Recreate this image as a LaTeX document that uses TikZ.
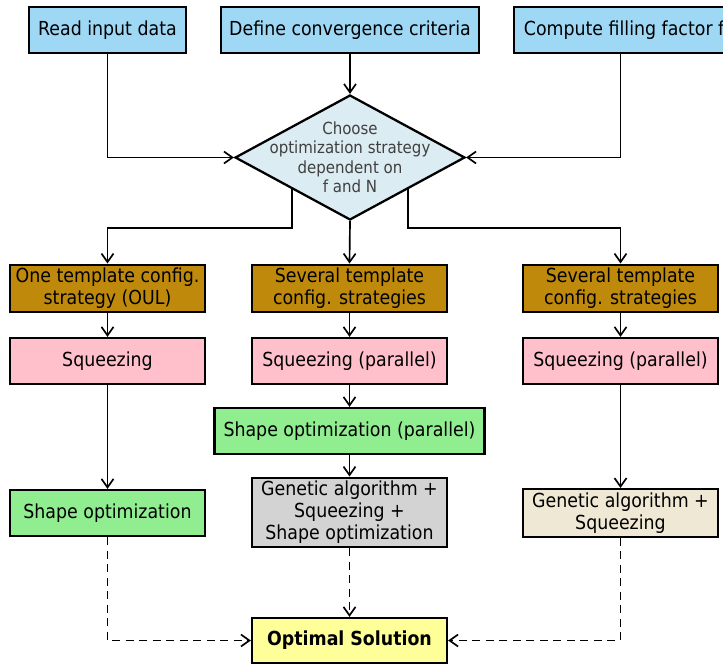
\documentclass[tikz,border=0pt]{standalone}
\usepackage{fontspec}
\setmainfont{DejaVu Sans Condensed}
\usepackage{tikz}
\usetikzlibrary{positioning,arrows.meta,calc,shapes.geometric}
\definecolor{inblue}{RGB}{158,216,245}
\definecolor{decfill}{RGB}{220,236,243}
\definecolor{ochre}{RGB}{191,138,11}
\definecolor{sqpink}{RGB}{255,192,203}
\definecolor{optgreen}{RGB}{144,238,144}
\definecolor{gagray}{RGB}{211,211,211}
\definecolor{gabeige}{RGB}{238,232,213}
\definecolor{solyellow}{RGB}{255,255,153}
\tikzset{
  box/.style={draw=black, line width=1.3pt, minimum width=3.9cm, minimum height=0.92cm,
              inner sep=2pt, align=center, font=\fontsize{11}{12.5}\selectfont},
  inbox/.style={box, fill=inblue},
  stratbox/.style={box, fill=ochre},
  sqbox/.style={box, fill=sqpink},
  shbox/.style={box, fill=optgreen},
  gabox/.style={box, fill=gagray},
  gabbox/.style={box, fill=gabeige},
  solbox/.style={box, fill=solyellow, font=\fontsize{11}{12.5}\selectfont\bfseries},
  decision/.style={diamond, draw=black, line width=1.3pt, fill=decfill, inner sep=0pt,
                   minimum width=4.6cm, minimum height=2.5cm},
  dectext/.style={align=center, text=black!75, font=\fontsize{9.5}{11.1}\selectfont},
  flow/.style={-{Straight Barb[length=1.7mm,width=2.4mm]}, line width=0.95pt},
  result/.style={flow, dash pattern=on 1.6mm off 1.1mm}
}
\begin{document}
\begin{tikzpicture}[x=0.02cm, y=-0.02cm]
\clip (0,0) rectangle (723,665);
% inputs
\node[inbox, minimum width=3.14cm] (read) at (107.5,30) {Read input data};
\node[inbox, minimum width=5.16cm] (conv) at (350,30) {Define convergence criteria};
\node[inbox, minimum width=4.4cm, anchor=west] (fill) at (513,30) {Compute filling factor f};
% decision
\node[decision] (dec) at (350,157.5) {};
\node[dectext] (decText) at (dec.center) {Choose\\optimization strategy\\dependent on\\f and N};
\coordinate (decL) at ($(dec.west)!0.5!(dec.south)$);
\coordinate (decR) at ($(dec.east)!0.5!(dec.south)$);
% strategies
\node[stratbox] (oneT) at (107.5,288.5) {One template config.\\strategy (OUL)};
\node[stratbox] (sevM) at (349.5,288.5) {Several template\\config. strategies};
\node[stratbox] (sevR) at (620.5,288.5) {Several template\\config. strategies};
\node[sqbox] (sqL) at (107.5,361) {Squeezing};
\node[sqbox] (sqM) at (349.5,361) {Squeezing (parallel)};
\node[sqbox] (sqR) at (620.5,361) {Squeezing (parallel)};
\node[shbox, minimum width=5.4cm] (shPar) at (349.5,431) {Shape optimization (parallel)};
\node[shbox] (shL) at (107.5,513) {Shape optimization};
\node[gabox, minimum height=1.38cm] (gaM) at (349.5,512.5) {Genetic algorithm +\\Squeezing +\\Shape optimization};
\node[gabbox] (gaR) at (620.5,513) {Genetic algorithm +\\Squeezing};
\node[solbox, minimum height=0.9cm] (opt) at (349.5,640.5) {Optimal Solution};
% connectors
\draw[flow] (read.south) |- (dec.west);
\draw[flow] (conv.south) -- (dec.north);
\draw[flow] (fill.south -| sevR.north) |- (dec.east);
\draw[flow] (decL) -- ++(0,39) -| (oneT.north);
\draw[flow] (dec.south) -- (sevM.north);
\draw[flow] (decR) -- ++(0,39) -| (sevR.north);
\draw[flow] (oneT) -- (sqL);
\draw[flow] (sevM) -- (sqM);
\draw[flow] (sevR) -- (sqR);
\draw[flow] (sqL) -- (shL);
\draw[flow] (sqM) -- (shPar);
\draw[flow] (shPar) -- (gaM);
\draw[flow] (sqR) -- (gaR);
\draw[result] (shL.south) |- (opt.west);
\draw[result] (gaM) -- (opt);
\draw[result] (gaR.south) |- (opt.east);
\end{tikzpicture}
\end{document}
